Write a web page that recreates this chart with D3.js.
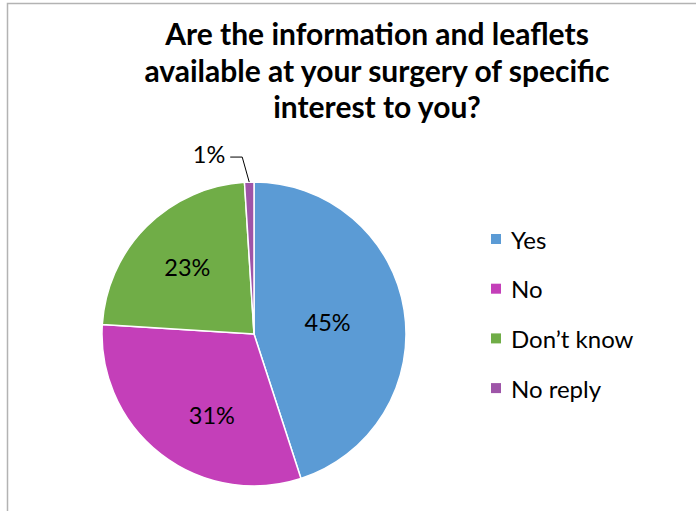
<!DOCTYPE html>
<html>
<head>
<meta charset="utf-8">
<script src="https://cdn.jsdelivr.net/npm/d3@7"></script>
<style>
  html, body { margin: 0; padding: 0; background: #fff; }
  svg { display: block; }
</style>
</head>
<body>
<svg id="chart" width="696" height="511"></svg>
<script>
const categories = ["Yes", "No", "Don\u2019t know", "No reply"];
const values = [45, 31, 23, 1];
const labels = ["45%", "31%", "23%", "1%"];
const colors = ["#5B9BD5", "#C43FB9", "#70AD47", "#9E55A8"];
const titleLines = ["Are the information and leaflets", "available at your surgery of specific", "interest to you?"];

const W = 696, H = 511;
const svg = d3.select("#chart");
const font = "Lato, 'Open Sans', sans-serif";

// Border
svg.append("rect").attr("x", 7.5).attr("y", 3.5).attr("width", 700).attr("height", 520)
  .attr("fill", "none").attr("stroke", "#b3b3b3").attr("stroke-width", 1.5);

// Title
svg.append("g").selectAll("text").data(titleLines).join("text")
  .attr("x", 377).attr("y", (d, i) => 45 + i * 36.5)
  .attr("text-anchor", "middle")
  .attr("font-family", font).attr("font-weight", "bold").attr("font-size", 30)
  .attr("fill", "#000").text(d => d);

const cx = 254, cy = 334, R = 152;
const pie = d3.pie().sort(null).value(d => d)(values);
const arc = d3.arc().innerRadius(0).outerRadius(R);
const g = svg.append("g").attr("transform", `translate(${cx},${cy})`);

g.selectAll("path").data(pie).join("path")
  .attr("d", arc)
  .attr("fill", (d, i) => colors[i])
  .attr("stroke", "#fff").attr("stroke-width", 1.5);

// Label placement: radius fraction and angle shift (radians) per slice
const labelRadius = [0.49, 0.6, 0.62];
const labelAngleShift = [0, -0.18, 0];

function polar(a, r) { return [Math.sin(a) * r, -Math.cos(a) * r]; }

g.selectAll("text.lbl").data(pie.slice(0, 3)).join("text")
  .attr("class", "lbl")
  .attr("transform", (d, i) => {
    const a = (d.startAngle + d.endAngle) / 2 + labelAngleShift[i];
    const p = polar(a, R * labelRadius[i]);
    return `translate(${p[0]},${p[1]})`;
  })
  .attr("text-anchor", "middle").attr("dominant-baseline", "central")
  .attr("font-family", font).attr("font-size", 23.5)
  .attr("fill", "#000").text((d, i) => labels[i]);

// Small slice: outside label with leader line
const small = pie[3];
const aS = (small.startAngle + small.endAngle) / 2;
const pEdge = polar(aS, R);
const pBend = [pEdge[0] - 7, pEdge[1] - 25];
const pStart = [pBend[0] - 12, pBend[1]];
g.append("path")
  .attr("d", d3.line()([pStart, pBend, pEdge]))
  .attr("fill", "none").attr("stroke", "#000").attr("stroke-width", 1);
g.append("text")
  .attr("x", pStart[0] - 5).attr("y", pStart[1] - 3)
  .attr("text-anchor", "end").attr("dominant-baseline", "central")
  .attr("font-family", font).attr("font-size", 23.5)
  .attr("fill", "#000").text(labels[3]);

// Legend
const legend = svg.append("g");
const items = legend.selectAll("g").data(categories).join("g")
  .attr("transform", (d, i) => `translate(491, ${239 + i * 49.7})`);
items.append("rect").attr("x", 0).attr("y", -5).attr("width", 10).attr("height", 10)
  .attr("fill", (d, i) => colors[i]);
items.append("text").attr("x", 20).attr("y", 0).attr("dominant-baseline", "central")
  .attr("font-family", font).attr("font-size", 24).attr("fill", "#000").text(d => d);
</script>
</body>
</html>
